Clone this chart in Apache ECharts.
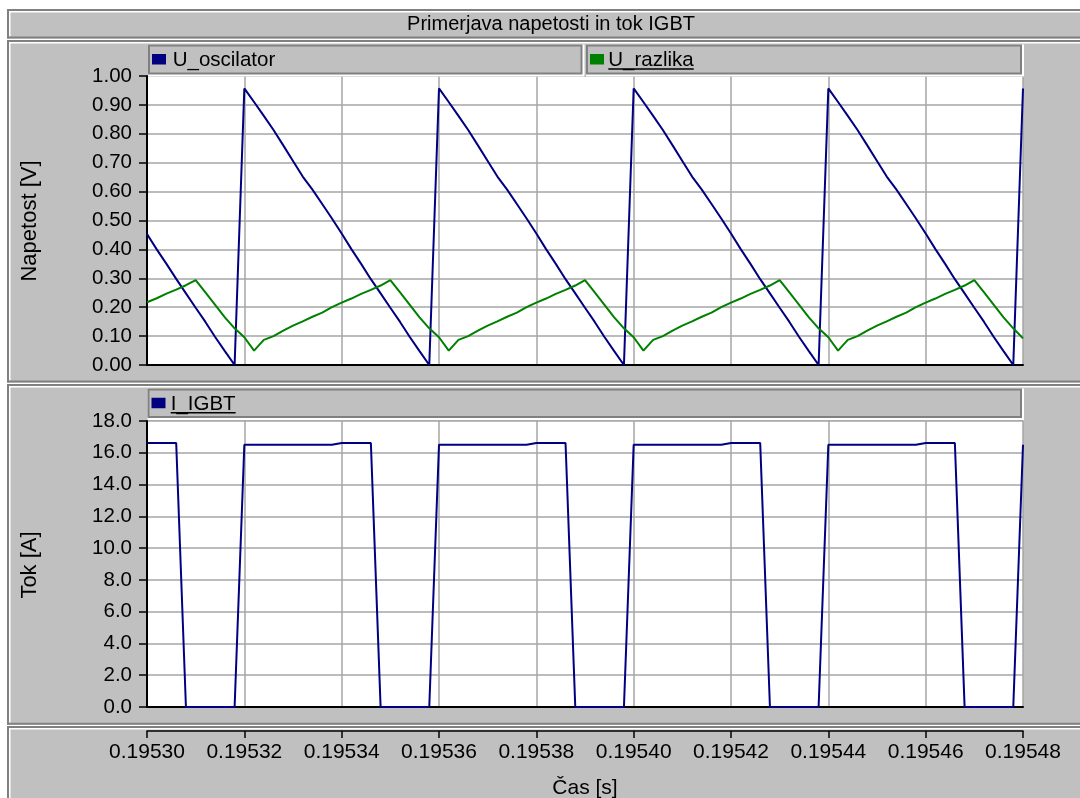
<!DOCTYPE html>
<html>
<head>
<meta charset="utf-8">
<title>Primerjava napetosti in tok IGBT</title>
<script src="https://cdn.jsdelivr.net/npm/echarts@6/dist/echarts.min.js"></script>
<style>
html, body { margin: 0; padding: 0; background: #fff; }
#chart { width: 1080px; height: 798px; }
</style>
</head>
<body>
<div id="chart"></div>
<script>
// Simulation samples, 2 µs step
const timeS = [
  0.195300,0.195302,0.195304,0.195306,0.195308,0.195310,0.195312,0.195314,0.195316,0.195318,
  0.195320,0.195322,0.195324,0.195326,0.195328,0.195330,0.195332,0.195334,0.195336,0.195338,
  0.195340,0.195342,0.195344,0.195346,0.195348,0.195350,0.195352,0.195354,0.195356,0.195358,
  0.195360,0.195362,0.195364,0.195366,0.195368,0.195370,0.195372,0.195374,0.195376,0.195378,
  0.195380,0.195382,0.195384,0.195386,0.195388,0.195390,0.195392,0.195394,0.195396,0.195398,
  0.195400,0.195402,0.195404,0.195406,0.195408,0.195410,0.195412,0.195414,0.195416,0.195418,
  0.195420,0.195422,0.195424,0.195426,0.195428,0.195430,0.195432,0.195434,0.195436,0.195438,
  0.195440,0.195442,0.195444,0.195446,0.195448,0.195450,0.195452,0.195454,0.195456,0.195458,
  0.195460,0.195462,0.195464,0.195466,0.195468,0.195470,0.195472,0.195474,0.195476,0.195478,
  0.195480
];

// Oscillator voltage [V]
const uOscilator = [
  0.453,0.400,0.350,0.298,0.248,0.198,0.149,0.097,0.048,0.000,0.957,0.910,0.862,0.813,0.760,0.706,0.652,0.607,0.557,0.507,
  0.455,0.401,0.350,0.297,0.248,0.198,0.149,0.097,0.048,0.000,0.957,0.910,0.862,0.813,0.760,0.706,0.652,0.607,0.557,0.507,
  0.455,0.401,0.350,0.297,0.248,0.198,0.149,0.097,0.048,0.000,0.957,0.910,0.862,0.813,0.760,0.706,0.652,0.607,0.557,0.507,
  0.455,0.401,0.350,0.297,0.248,0.198,0.149,0.097,0.048,0.000,0.957,0.910,0.862,0.813,0.760,0.706,0.652,0.607,0.557,0.507,
  0.455,0.401,0.350,0.297,0.248,0.198,0.149,0.097,0.048,0.000,0.957
];

// Difference voltage [V]
const uRazlika = [
  0.217,0.231,0.247,0.261,0.276,0.294,0.251,0.208,0.165,0.127,0.096,0.050,0.087,0.100,0.119,0.136,0.151,0.167,0.181,0.200,
  0.216,0.230,0.246,0.260,0.275,0.294,0.251,0.208,0.165,0.127,0.096,0.050,0.087,0.100,0.119,0.136,0.151,0.167,0.181,0.200,
  0.216,0.230,0.246,0.260,0.275,0.294,0.251,0.208,0.165,0.127,0.096,0.050,0.087,0.100,0.119,0.136,0.151,0.167,0.181,0.200,
  0.216,0.230,0.246,0.260,0.275,0.294,0.251,0.208,0.165,0.127,0.096,0.050,0.087,0.100,0.119,0.136,0.151,0.167,0.181,0.200,
  0.216,0.230,0.246,0.260,0.275,0.294,0.251,0.208,0.165,0.127,0.092
];

// IGBT current [A]
const iIGBT = [
  16.62,16.62,16.62,16.62,0,0,0,0,0,0,16.50,16.50,16.50,16.50,16.50,16.50,16.50,16.50,16.50,16.50,
  16.62,16.62,16.62,16.62,0,0,0,0,0,0,16.50,16.50,16.50,16.50,16.50,16.50,16.50,16.50,16.50,16.50,
  16.62,16.62,16.62,16.62,0,0,0,0,0,0,16.50,16.50,16.50,16.50,16.50,16.50,16.50,16.50,16.50,16.50,
  16.62,16.62,16.62,16.62,0,0,0,0,0,0,16.50,16.50,16.50,16.50,16.50,16.50,16.50,16.50,16.50,16.50,
  16.62,16.62,16.62,16.62,0,0,0,0,0,0,16.50
];

const seriesNames = ['U_oscilator', 'U_razlika', 'I_IGBT'];
const chartTitle = 'Primerjava napetosti in tok IGBT';
const axisTitles = { voltage: 'Napetost [V]', current: 'Tok [A]', time: 'Čas [s]' };

// Axis ranges
const timeAxis = { min: 0.19530, max: 0.19548, interval: 0.00002 };
const voltAxis = { min: 0, max: 1.0, interval: 0.1 };
const currAxis = { min: 0, max: 18, interval: 2 };

// ---- styling ----
const FONT = '"Liberation Sans", Arial, sans-serif';
const PANEL = '#c0c0c0';
const DARK = '#808080';
const GRID_LINE = '#a6a6a6';
const BLUE = '#000080';
const GREEN = '#008000';

const pair = (t, v) => t.map((x, i) => [x, v[i]]);

function measure(text, size) {
  const c = document.createElement('canvas').getContext('2d');
  c.font = size + 'px ' + FONT;
  return c.measureText(text).width;
}

// raised grey panel with bevel edges
function panel(y0, y1) {
  return [
    { type: 'rect', z: -10, silent: true, shape: { x: 8, y: y0, width: 1090, height: y1 - y0 }, style: { fill: PANEL } },
    { type: 'rect', z: -9, silent: true, shape: { x: 7, y: y0, width: 1091, height: 2 }, style: { fill: DARK } },
    { type: 'rect', z: -9, silent: true, shape: { x: 7, y: y0, width: 2, height: y1 - y0 }, style: { fill: DARK } },
    { type: 'rect', z: -9, silent: true, shape: { x: 9, y: y0 + 2, width: 1089, height: 1.5 }, style: { fill: '#fff' } },
    { type: 'rect', z: -9, silent: true, shape: { x: 9, y: y0 + 2, width: 1.5, height: y1 - y0 - 4 }, style: { fill: '#fff' } },
    { type: 'rect', z: -9, silent: true, shape: { x: 7, y: y1 - 2, width: 1091, height: 2 }, style: { fill: DARK } }
  ];
}

// legend box: framed grey cell, colour square, label, optional underline
function legendBox(x0, x1, y0, y1, color, label, textX, underline) {
  const cy = (y0 + y1) / 2;
  const els = [
    { type: 'rect', z: 5, silent: true, shape: { x: x0, y: y0, width: x1 - x0 + 2, height: y1 - y0 + 2 }, style: { fill: '#fff' } },
    { type: 'rect', z: 6, silent: true, shape: { x: x0, y: y0, width: x1 - x0, height: y1 - y0 }, style: { fill: DARK } },
    { type: 'rect', z: 7, silent: true, shape: { x: x0 + 2, y: y0 + 2, width: x1 - x0 - 4, height: y1 - y0 - 4 }, style: { fill: PANEL } },
    { type: 'rect', z: 8, silent: true, shape: { x: x0 + 4, y: cy - 5.5, width: 14, height: 10.5 }, style: { fill: color } },
    { type: 'text', z: 8, silent: true, x: textX, y: cy + 1.2,
      style: { text: label, fill: '#000', fontSize: 20.5, fontFamily: FONT, align: 'left', verticalAlign: 'middle' } }
  ];
  if (underline) {
    els.push({ type: 'rect', z: 8, silent: true,
      shape: { x: textX, y: cy + 8.8, width: measure(label, 20.5), height: 1.5 }, style: { fill: '#000' } });
  }
  return els;
}

const P_LEFT = 147, P_WIDTH = 876;

const chart = echarts.init(document.getElementById('chart'), null, { renderer: 'canvas' });

const valueXAxis = (gridIndex) => ({
  type: 'value', gridIndex,
  min: timeAxis.min, max: timeAxis.max, interval: timeAxis.interval,
  axisLine: { show: true, onZero: false, lineStyle: { color: '#000', width: 2 } },
  axisTick: { show: false },
  axisLabel: { show: false },
  splitLine: { show: true, lineStyle: { color: GRID_LINE, width: 1.5 } }
});

const valueYAxis = (gridIndex, range, digits) => ({
  type: 'value', gridIndex,
  min: range.min, max: range.max, interval: range.interval,
  axisLine: { show: true, onZero: false, lineStyle: { color: '#000', width: 2 } },
  axisTick: { show: true, length: 8, lineStyle: { color: '#000', width: 1.5 } },
  axisLabel: { show: true, color: '#000', fontSize: 20.5, fontFamily: FONT, margin: 15,
    padding: [3, 0, 0, 0], formatter: v => v.toFixed(digits) },
  splitLine: { show: true, lineStyle: { color: GRID_LINE, width: 1.5 } }
});

const option = {
  animation: false,
  backgroundColor: '#fff',
  grid: [
    { left: P_LEFT, top: 76, width: P_WIDTH, height: 289, show: true, backgroundColor: '#fff', borderWidth: 0 },
    { left: P_LEFT, top: 421, width: P_WIDTH, height: 286, show: true, backgroundColor: '#fff', borderWidth: 0 }
  ],
  xAxis: [
    valueXAxis(0),
    valueXAxis(1),
    {
      type: 'value', gridIndex: 1, position: 'bottom', offset: 24,
      min: timeAxis.min, max: timeAxis.max, interval: timeAxis.interval,
      axisLine: { show: true, onZero: false, lineStyle: { color: '#000', width: 1.5 } },
      axisTick: { show: true, length: 7, lineStyle: { color: '#000', width: 1.5 } },
      axisLabel: { show: true, color: '#000', fontSize: 21, fontFamily: FONT, margin: 11,
        formatter: v => v.toFixed(5) },
      splitLine: { show: false }
    }
  ],
  yAxis: [
    valueYAxis(0, voltAxis, 2),
    valueYAxis(1, currAxis, 1)
  ],
  series: [
    { name: seriesNames[0], type: 'line', xAxisIndex: 0, yAxisIndex: 0, showSymbol: false,
      lineStyle: { color: BLUE, width: 2 }, itemStyle: { color: BLUE }, data: pair(timeS, uOscilator) },
    { name: seriesNames[1], type: 'line', xAxisIndex: 0, yAxisIndex: 0, showSymbol: false,
      lineStyle: { color: GREEN, width: 2 }, itemStyle: { color: GREEN }, data: pair(timeS, uRazlika) },
    { name: seriesNames[2], type: 'line', xAxisIndex: 1, yAxisIndex: 1, showSymbol: false,
      lineStyle: { color: BLUE, width: 2 }, itemStyle: { color: BLUE }, data: pair(timeS, iIGBT) }
  ],
  graphic: {
    elements: [].concat(
      panel(9, 38.5),
      panel(40, 382.5),
      panel(384, 724.7),
      panel(726, 820),
      legendBox(148, 582.5, 44.5, 74.5, BLUE, seriesNames[0], 172.7, false),
      legendBox(586, 1022, 44.5, 74.5, GREEN, seriesNames[1], 608.3, true),
      legendBox(147.5, 1022, 388.5, 418, BLUE, seriesNames[2], 170.7, true),
      [
        { type: 'text', z: 8, silent: true, x: 551, y: 24.5,
          style: { text: chartTitle, fill: '#000', fontSize: 20, fontFamily: FONT, align: 'center', verticalAlign: 'middle' } },
        { type: 'text', z: 8, silent: true, x: 30, y: 221, rotation: Math.PI / 2,
          style: { text: axisTitles.voltage, fill: '#000', fontSize: 22, fontFamily: FONT, align: 'center', verticalAlign: 'middle' } },
        { type: 'text', z: 8, silent: true, x: 30, y: 565, rotation: Math.PI / 2,
          style: { text: axisTitles.current, fill: '#000', fontSize: 22, fontFamily: FONT, align: 'center', verticalAlign: 'middle' } },
        { type: 'text', z: 8, silent: true, x: 585, y: 788, 
          style: { text: axisTitles.time, fill: '#000', fontSize: 21, fontFamily: FONT, align: 'center', verticalAlign: 'middle' } }
      ]
    )
  }
};

chart.setOption(option);
</script>
</body>
</html>
